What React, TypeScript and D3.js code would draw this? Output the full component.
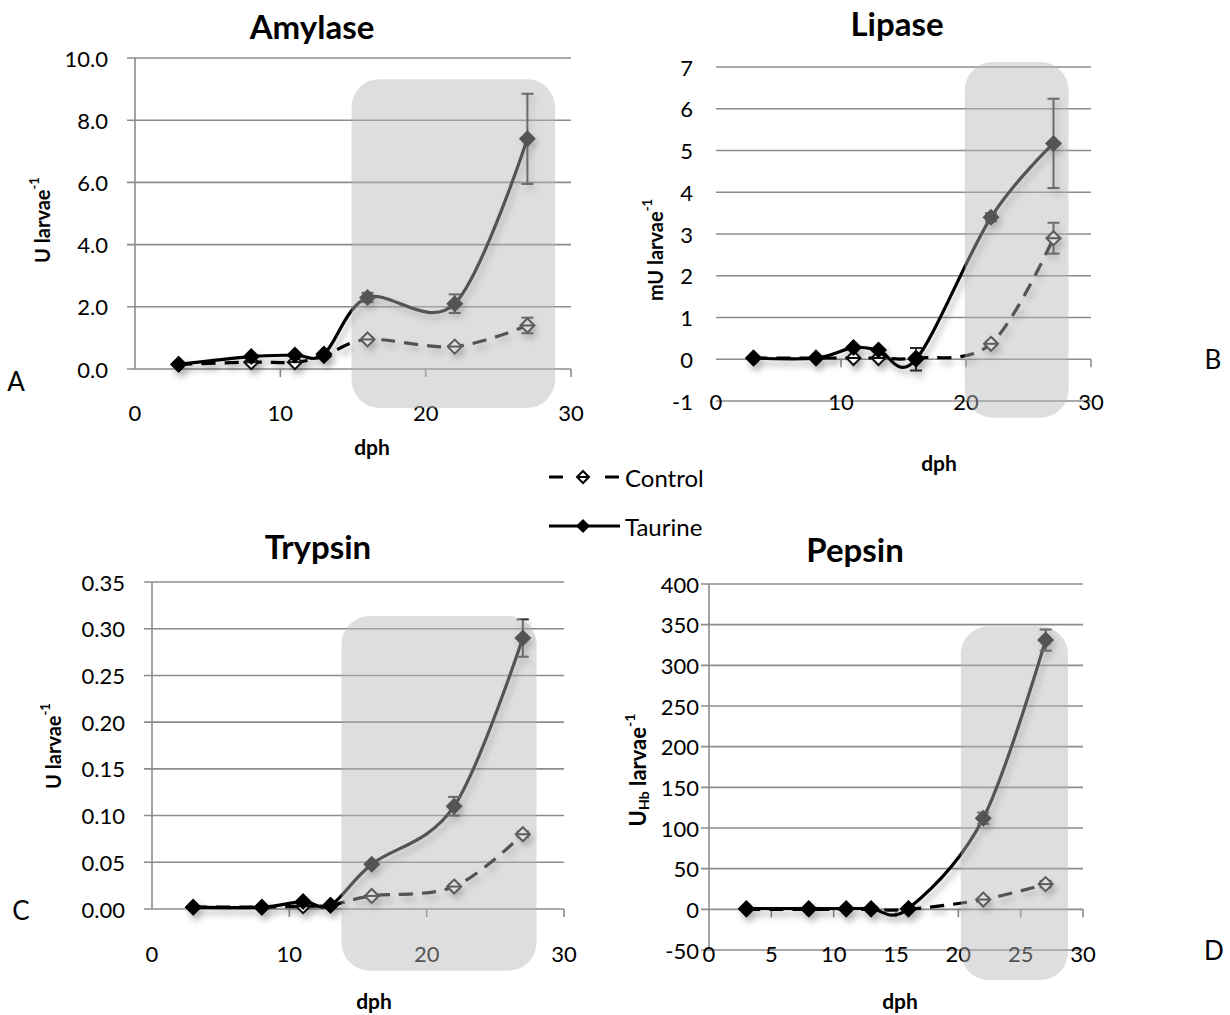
import React from 'react';
import * as d3 from 'd3';

// sampling days (days post hatch)
const days = [3, 8, 11, 13, 16, 22, 27];

// Amylase (U larvae-1)
const amylaseTaurine = [0.15, 0.4, 0.45, 0.48, 2.3, 2.1, 7.4];
const amylaseTaurineErr = [0, 0, 0, 0, 0.15, 0.3, 1.45];
const amylaseControl = [0.15, 0.22, 0.22, 0.42, 0.95, 0.72, 1.4];
const amylaseControlErr = [0, 0, 0, 0, 0.06, 0.06, 0.25];

// Lipase (mU larvae-1)
const lipaseTaurine = [0.03, 0.03, 0.28, 0.22, 0.0, 3.4, 5.17];
const lipaseTaurineErr = [0, 0, 0, 0, 0.27, 0.1, 1.07];
const lipaseControl = [0.03, 0.03, 0.03, 0.03, 0.03, 0.37, 2.9];
const lipaseControlErr = [0, 0, 0, 0, 0, 0.05, 0.37];

// Trypsin (U larvae-1)
const trypsinTaurine = [0.002, 0.002, 0.008, 0.004, 0.048, 0.11, 0.29];
const trypsinTaurineErr = [0, 0, 0, 0, 0.002, 0.01, 0.02];
const trypsinControl = [0.002, 0.002, 0.003, 0.004, 0.014, 0.024, 0.08];
const trypsinControlErr = [0, 0, 0, 0, 0.001, 0.002, 0.003];

// Pepsin (U_Hb larvae-1)
const pepsinTaurine = [1, 1, 1, 1, 1, 112, 331];
const pepsinTaurineErr = [0, 0, 0, 0, 0, 7, 13];
const pepsinControl = [0, 0, 0, 0, 0, 12, 31];
const pepsinControlErr = [0, 0, 0, 0, 0, 2, 4];

const xTicksTen = [0, 10, 20, 30];
const xTicksFive = [0, 5, 10, 15, 20, 25, 30];

const FONT = 'Lato, "Open Sans", sans-serif';
const GRID = '#8c8c8c';

const panels = [
  {
    title: 'Amylase', titlePos: [312, 39], letter: 'A', letterPos: [16, 391],
    xPx: [135, 571], yPx: [369, 58], yDomain: [0, 10],
    yTicks: d3.range(0, 10.01, 2), yFmt: (v: number) => v.toFixed(1),
    xTicks: xTicksTen, xLabelY: 412, yLabelOffset: 27, yAxisLine: true,
    shade: [14.9, 28.9, 9.32, -1.25],
    yLabel: ['U larvae', '', '-1'], yLabelPos: [42, 220], dphPos: [372, 446],
    taurine: amylaseTaurine, taurineErr: amylaseTaurineErr,
    control: amylaseControl, controlErr: amylaseControlErr,
  },
  {
    title: 'Lipase', titlePos: [897, 36], letter: 'B', letterPos: [1213, 369],
    xPx: [716, 1091], yPx: [401, 67], yDomain: [-1, 7],
    yTicks: d3.range(-1, 7.01, 1), yFmt: (v: number) => String(v),
    xTicks: xTicksTen, xLabelY: 401, yLabelOffset: 23, yAxisLine: false,
    shade: [19.9, 28.2, 7.12, -1.4],
    yLabel: ['mU larvae', '', '-1'], yLabelPos: [655, 250], dphPos: [939, 462],
    taurine: lipaseTaurine, taurineErr: lipaseTaurineErr,
    control: lipaseControl, controlErr: lipaseControlErr,
  },
  {
    title: 'Trypsin', titlePos: [318, 559], letter: 'C', letterPos: [21, 920],
    xPx: [152, 564], yPx: [909, 582], yDomain: [0, 0.35],
    yTicks: d3.range(0, 0.351, 0.05), yFmt: (v: number) => v.toFixed(2),
    xTicks: xTicksTen, xLabelY: 953, yLabelOffset: 27, yAxisLine: true,
    shade: [13.8, 28.0, 0.3136, -0.066],
    yLabel: ['U larvae', '', '-1'], yLabelPos: [53, 746], dphPos: [374, 1000],
    taurine: trypsinTaurine, taurineErr: trypsinTaurineErr,
    control: trypsinControl, controlErr: trypsinControlErr,
  },
  {
    title: 'Pepsin', titlePos: [855, 562], letter: 'D', letterPos: [1214, 960],
    xPx: [709, 1083], yPx: [950, 584], yDomain: [-50, 400],
    yTicks: d3.range(-50, 400.1, 50), yFmt: (v: number) => String(v),
    xTicks: xTicksFive, xLabelY: 953, yLabelOffset: 10, yAxisLine: true,
    shade: [20.2, 28.8, 348, -87],
    yLabel: ['U', 'Hb', ' larvae', '-1'], yLabelPos: [637, 770], dphPos: [900, 1000],
    taurine: pepsinTaurine, taurineErr: pepsinTaurineErr,
    control: pepsinControl, controlErr: pepsinControlErr,
  },
];

const diamond = (r: number) => `M0,${-r}L${r},0L0,${r}L${-r},0Z`;

function YLabel({ parts, pos }: any) {
  const [cx, cy] = pos;
  return (
    <text transform={`translate(${cx},${cy}) rotate(-90)`} textAnchor="middle"
      dominantBaseline="central" fontFamily={FONT} fontWeight="bold" fontSize={20} fill="#000">
      {parts.length === 3 ? (
        <>
          <tspan>{parts[0]}</tspan>
          <tspan fontSize={13} dy={-8}>{parts[2]}</tspan>
        </>
      ) : (
        <>
          <tspan fontSize={22}>{parts[0]}</tspan>
          <tspan fontSize={14} dy={6}>{parts[1]}</tspan>
          <tspan fontSize={22} dy={-6}>{parts[2]}</tspan>
          <tspan fontSize={14} dy={-8}>{parts[3]}</tspan>
        </>
      )}
    </text>
  );
}

function Series({ values, errs, x, y, dashed }: any) {
  const line = d3.line<number>()
    .x((_, i) => x(days[i]))
    .y((d) => y(d))
    .curve(d3.curveCardinal.tension(0));
  return (
    <g>
      <path d={line(values) || ''} fill="none" stroke="#000" strokeWidth={3.2}
        strokeDasharray={dashed ? '14,9' : undefined} />
      {values.map((v: number, i: number) => errs[i] > 0 ? (
        <g key={'e' + i} stroke="#2a2a2a" strokeWidth={2}>
          <line x1={x(days[i])} x2={x(days[i])} y1={y(v - errs[i])} y2={y(v + errs[i])} />
          <line x1={x(days[i]) - 6} x2={x(days[i]) + 6} y1={y(v + errs[i])} y2={y(v + errs[i])} />
          <line x1={x(days[i]) - 6} x2={x(days[i]) + 6} y1={y(v - errs[i])} y2={y(v - errs[i])} />
        </g>
      ) : null)}
      {values.map((v: number, i: number) => (
        <g key={'m' + i} transform={`translate(${x(days[i])},${y(v)})`}>
          {dashed ? (
            <>
              <path d={diamond(7)} fill="#fff" stroke="#111" strokeWidth={2} />
              <line x1={-6} x2={6} y1={0} y2={0} stroke="#111" strokeWidth={2} />
            </>
          ) : (
            <path d={diamond(8.5)} fill="#000" />
          )}
        </g>
      ))}
    </g>
  );
}

function Panel({ p }: any) {
  const x = d3.scaleLinear().domain([0, 30]).range(p.xPx);
  const y = d3.scaleLinear().domain(p.yDomain).range(p.yPx);
  const y0 = y(0);
  const [sx0, sx1, sy0, sy1] = p.shade;
  return (
    <g>
      {p.yTicks.filter((t: number) => Math.abs(t) > 1e-9).map((t: number) => (
        <line key={'g' + t} x1={x(0) - (p.yAxisLine ? 8 : 0)} x2={x(30)} y1={y(t)} y2={y(t)}
          stroke={GRID} strokeWidth={1.6} />
      ))}
      {p.yAxisLine && (
        <line x1={x(0)} x2={x(0)} y1={y(p.yDomain[1])} y2={y(p.yDomain[0])} stroke={GRID} strokeWidth={1.6} />
      )}
      <line x1={x(0) - (p.yAxisLine ? 8 : 0)} x2={x(30)} y1={y0} y2={y0} stroke={GRID} strokeWidth={1.6} />
      {p.xTicks.filter((t: number) => t > 0).map((t: number) => (
        <line key={'xt' + t} x1={x(t)} x2={x(t)} y1={y0} y2={y0 + 8} stroke={GRID} strokeWidth={1.6} />
      ))}
      {p.yTicks.map((t: number) => (
        <text key={'yl' + t} x={x(0) - p.yLabelOffset} y={y(t)} textAnchor="end" dominantBaseline="central"
          fontFamily={FONT} fontSize={22} fill="#000">{p.yFmt(t)}</text>
      ))}
      {p.xTicks.map((t: number) => (
        <text key={'xl' + t} x={x(t)} y={p.xLabelY} textAnchor="middle" dominantBaseline="central"
          fontFamily={FONT} fontSize={22} fill="#000">{t}</text>
      ))}
      <g filter="url(#shadow)">
        <Series values={p.control} errs={p.controlErr} x={x} y={y} dashed />
        <Series values={p.taurine} errs={p.taurineErr} x={x} y={y} />
      </g>
      <rect x={x(sx0)} y={y(sy0)} width={x(sx1) - x(sx0)} height={y(sy1) - y(sy0)}
        rx={28} fill="#b8b8b8" fillOpacity={0.46} />
      <text x={p.titlePos[0]} y={p.titlePos[1]} textAnchor="middle" fontFamily={FONT}
        fontWeight="bold" fontSize={33} fill="#000">{p.title}</text>
      <YLabel parts={p.yLabel} pos={p.yLabelPos} />
      <text x={p.dphPos[0]} y={p.dphPos[1]} textAnchor="middle" dominantBaseline="central"
        fontFamily={FONT} fontWeight="bold" fontSize={21} fill="#000">dph</text>
      <text x={p.letterPos[0]} y={p.letterPos[1]} textAnchor="middle" fontFamily={FONT}
        fontSize={26} fill="#000">{p.letter}</text>
    </g>
  );
}

function Legend() {
  return (
    <g fontFamily={FONT} fontSize={24} fill="#000">
      <line x1={549} x2={563} y1={477} y2={477} stroke="#000" strokeWidth={3} />
      <line x1={605} x2={619} y1={477} y2={477} stroke="#000" strokeWidth={3} />
      <path transform="translate(583,477)" d={diamond(6)} fill="#fff" stroke="#000" strokeWidth={2} />
      <line x1={578} x2={588} y1={477} y2={477} stroke="#000" strokeWidth={2} />
      <text x={625} y={477} dominantBaseline="central">Control</text>
      <line x1={549} x2={620} y1={526} y2={526} stroke="#000" strokeWidth={3} />
      <path transform="translate(583,526)" d={diamond(7)} fill="#000" />
      <text x={625} y={526} dominantBaseline="central">Taurine</text>
    </g>
  );
}

export default function App() {
  return (
    <svg width={1230} height={1015} style={{ position: 'absolute', left: 0, top: 0, background: '#fff' }}>
      <defs>
        <filter id="shadow" x="-10%" y="-10%" width="130%" height="130%">
          <feDropShadow dx={3} dy={5} stdDeviation={3} floodColor="#000" floodOpacity={0.3} />
        </filter>
      </defs>
      <rect width={1230} height={1015} fill="#fff" />
      {panels.map((p) => <Panel key={p.title} p={p} />)}
      <Legend />
    </svg>
  );
}
